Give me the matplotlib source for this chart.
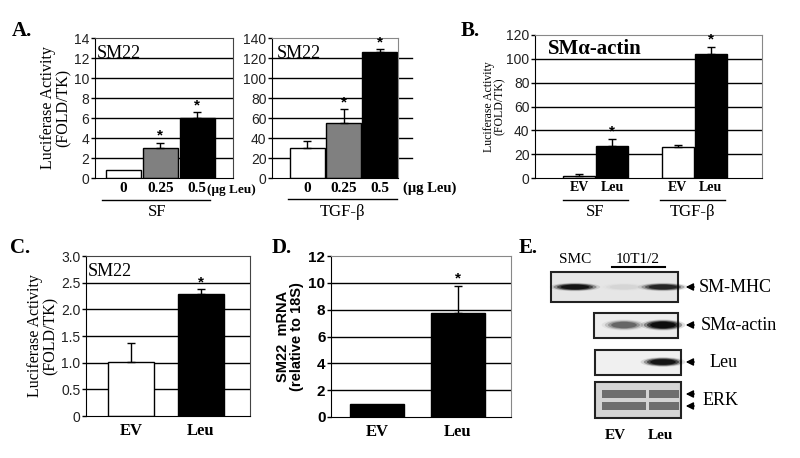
"""
Leupaxin figure: luciferase reporter assays (A-C), SM22 mRNA (D) and western blot (E)
"""
import matplotlib
matplotlib.use('Agg')
import matplotlib.pyplot as plt
from matplotlib.patches import Rectangle, Ellipse
from matplotlib.lines import Line2D

# ---- data ----
a_doses = ['0', '0.25', '0.5']
a_sf = [0.8, 3.0, 6.0]
a_sf_err = [0.0, 0.55, 0.6]
a_tgf = [30, 55, 126]
a_tgf_err = [7, 14, 3]

b_labels = ['EV', 'Leu', 'EV', 'Leu']
b_vals = [2, 27, 26, 104]
b_err = [1, 6, 2, 6]
b_colors = ['white', 'black', 'white', 'black']

cd_labels = ['EV', 'Leu']
c_vals = [1.02, 2.28]
c_err = [0.34, 0.1]
d_vals = [1.0, 7.75]
d_err = [0.0, 2.05]

# western blot band intensities per lane (SMC, EV, Leu)
blot_lanes = ['SMC', 'EV', 'Leu']
mhc_int = [0.9, 0.04, 0.75]
actin_int = [None, 0.4, 1.0]
leu_int = [None, 0.0, 0.9]
erk_int = [None, 0.8, 0.8]

W, H = 800, 458
fig = plt.figure(figsize=(8, 4.58), dpi=100)

SERIF = ['Liberation Serif', 'DejaVu Serif']
SANS = ['Liberation Sans', 'DejaVu Sans']


def box(x0, y0, x1, y1):
    return fig.add_axes([x0 / W, 1 - y1 / H, (x1 - x0) / W, (y1 - y0) / H])


def ftext(x, y, s, **kw):
    kw.setdefault('family', SERIF)
    kw.setdefault('ha', 'center')
    kw.setdefault('va', 'center')
    fig.text(x / W, 1 - y / H, s, **kw)


def hline(x0, x1, y, lw=1.0):
    fig.add_artist(Line2D([x0 / W, x1 / W], [1 - y / H, 1 - y / H],
                          color='black', lw=lw))


def style(ax, ymax, step, grid, frame='#888888', tickfont=None, fmt=None):
    ax.set_ylim(0, ymax)
    ticks = [i * step for i in range(int(round(ymax / step)) + 1)]
    ax.set_yticks(ticks)
    if fmt:
        ax.set_yticklabels([fmt(t) for t in ticks])
    for t in ticks:
        if 0 < t < ymax and grid:
            ax.axhline(t, color='black', lw=1, zorder=0)
    for s in ['top', 'right']:
        ax.spines[s].set_color(frame)
    for s in ['left', 'bottom']:
        ax.spines[s].set_color('black')
    ax.tick_params(axis='y', length=3, width=1, pad=1)
    ax.tick_params(axis='x', length=0)
    for lab in ax.get_yticklabels():
        lab.set(**(tickfont or dict(family=SANS, fontsize=10, color='#222222')))


def bars(ax, x, vals, errs, colors, width, stars):
    ax.bar(x, vals, width=width, color=colors, edgecolor='black', lw=1, zorder=2)
    for xi, v, e, s in zip(x, vals, errs, stars):
        if e > 0:
            ax.errorbar(xi, v, yerr=[[0], [e]], color='black', lw=1,
                        capsize=3, capthick=1, zorder=3)
        if s:
            ax.text(xi, v + e, '*', ha='center', va='bottom', fontsize=11,
                    fontweight='bold', family=SANS, zorder=4)


xlab_font = dict(family=SERIF, fontsize=11, fontweight='bold')

# ---- A, serum free ----
ax = box(95, 38, 233, 178)
x = list(range(len(a_doses)))
bars(ax, x, a_sf, a_sf_err, ['white', '#808080', 'black'], 0.95, [0, 1, 1])
ax.set_xlim(-0.77, 2.97)
style(ax, 14, 2, True, frame='#444444')
ax.set_xticks(x)
ax.set_xticklabels(a_doses, **xlab_font)
ax.tick_params(axis='x', pad=3)
ax.text(0.015, 0.89, 'SM22', transform=ax.transAxes, family=SERIF,
        fontsize=13, va='center')
ax.set_ylabel('Luciferase Activity\n(FOLD/TK)', family=SERIF, fontsize=11.5,
              labelpad=2, linespacing=0.9)
ftext(207, 190, '(μg Leu)', ha='left', family=SERIF, fontsize=9.5,
      fontweight='bold')
hline(102, 210, 200)
ftext(157, 212, 'SF', fontsize=12)

# ---- A, TGF-beta ----
ax = box(272, 38, 398, 178)
bars(ax, x, a_tgf, a_tgf_err, ['white', '#808080', 'black'], 0.97, [0, 1, 1])
ax.set_xlim(-0.98, 2.5)
style(ax, 140, 20, False)
for t in range(20, 140, 20):
    ax.axhline(t, xmin=0, xmax=1.11, color='black', lw=1, zorder=0,
               clip_on=False)
ax.set_xticks(x)
ax.set_xticklabels(a_doses, **xlab_font)
ax.tick_params(axis='x', pad=3)
ax.text(0.04, 0.89, 'SM22', transform=ax.transAxes, family=SERIF,
        fontsize=13, va='center')
ftext(403, 188, '(μg Leu)', ha='left', family=SERIF, fontsize=10.5,
      fontweight='bold')
hline(288, 397, 199)
ftext(343, 212, 'TGF-β', fontsize=12)

# ---- B ----
ax = box(535, 35, 762, 178)
bx = [0, 1, 3, 4]
bars(ax, bx, b_vals, b_err, b_colors, 0.97, [0, 1, 0, 1])
ax.set_xlim(-1.35, 5.56)
style(ax, 120, 20, True)
ax.set_xticks(bx)
ax.set_xticklabels(b_labels, family=SERIF, fontsize=10, fontweight='bold')
ax.tick_params(axis='x', pad=2)
ax.text(0.057, 0.9, 'SMα-actin', transform=ax.transAxes, family=SERIF,
        fontsize=15, fontweight='bold', va='center')
ax.set_ylabel('Luciferase Activity\n(FOLD/TK)', family=SERIF, fontsize=8.5,
              labelpad=0, linespacing=0.9)
hline(563, 628, 200)
hline(660, 725, 200)
ftext(595, 212, 'SF', fontsize=12)
ftext(693, 212, 'TGF-β', fontsize=12)

# ---- C ----
ax = box(86, 256, 250, 416)
cx = list(range(len(cd_labels)))
bars(ax, cx, c_vals, c_err, ['white', 'black'], 0.66, [0, 1])
ax.set_xlim(-0.64, 1.7)
style(ax, 3.0, 0.5, True, frame='#444444',
      fmt=lambda t: '0' if t == 0 else f'{t:.1f}')
ax.set_xticks(cx)
ax.set_xticklabels(cd_labels, family=SERIF, fontsize=12, fontweight='bold')
ax.tick_params(axis='x', pad=5)
ax.text(0.01, 0.9, 'SM22', transform=ax.transAxes, family=SERIF,
        fontsize=13, va='center')
ax.set_ylabel('Luciferase Activity\n(FOLD/TK)', family=SERIF, fontsize=11.5,
              labelpad=2, linespacing=0.9)

# ---- D ----
ax = box(331, 256, 511, 417)
bars(ax, cx, d_vals, d_err, ['black', 'black'], 0.67, [0, 1])
ax.set_xlim(-0.57, 1.66)
style(ax, 12, 2, True,
      tickfont=dict(family=SANS, fontsize=11, fontweight='bold', color='black'))
ax.set_xticks(cx)
ax.set_xticklabels(cd_labels, family=SERIF, fontsize=12, fontweight='bold')
ax.tick_params(axis='x', pad=5)
ax.set_ylabel('SM22  mRNA\n(relative to 18S)', family=SANS, fontsize=10.5,
              fontweight='bold', labelpad=3, linespacing=1.0)

# ---- E, western blot ----
ax = box(520, 220, 800, 458)
ax.set_xlim(520, 800)
ax.set_ylim(458, 220)
ax.axis('off')
lane_x = dict(zip(blot_lanes, [575, 624, 663]))


def band(cx_, cy, w, h, inten):
    if not inten:
        return
    for k, scale in enumerate([1.4, 1.2, 1.0, 0.8]):
        ax.add_patch(Ellipse((cx_, cy), w * scale, h * scale,
                             color='black', alpha=inten * (0.12 + 0.22 * k), lw=0))


strips = [
    ('SM-MHC', (551, 272, 127, 30), mhc_int, 287, 36, 6, '#e6e6e6'),
    ('SMα-actin', (594, 313, 84, 25), actin_int, 325, 32, 8, '#ededed'),
    ('Leu', (595, 350, 86, 25), leu_int, 362, 32, 7, '#f0f0f0'),
]
for name, (x0, y0, w, h), ints, by, bw, bh, face in strips:
    ax.add_patch(Rectangle((x0, y0), w, h, facecolor=face, edgecolor='#222222', lw=1.5))
    for lane, inten in zip(blot_lanes, ints):
        band(lane_x[lane], by, bw, bh, inten)
    ax.annotate('', xy=(683, by), xytext=(697, by),
                arrowprops=dict(arrowstyle='-|>', color='black', lw=1,
                                mutation_scale=11))
ax.text(699, 287, 'SM-MHC', family=SERIF, fontsize=13, va='center')
ax.text(701, 325, 'SMα-actin', family=SERIF, fontsize=13, va='center')
ax.text(710, 362, 'Leu', family=SERIF, fontsize=13, va='center')

# ERK strip, two bands
ax.add_patch(Rectangle((595, 382), 86, 36, facecolor='#d4d4d4', edgecolor='#222222', lw=1.5))
for lane, inten in zip(blot_lanes, erk_int):
    if inten:
        for by in (394, 406):
            ax.add_patch(Rectangle((lane_x[lane] - 22 if lane == 'EV' else lane_x[lane] - 14, by - 4),
                                   44 if lane == 'EV' else 30, 8, color='#555555',
                                   alpha=inten, lw=0))
for by in (394, 406):
    ax.annotate('', xy=(683, by), xytext=(697, by),
                arrowprops=dict(arrowstyle='-|>', color='black', lw=1,
                                mutation_scale=11))
ax.text(703, 400, 'ERK', family=SERIF, fontsize=13, va='center')

ax.text(lane_x['SMC'], 259, 'SMC', family=SERIF, fontsize=11, ha='center', va='center')
ax.text(638, 259, '10T1/2', family=SERIF, fontsize=11, ha='center', va='center')
ax.plot([612, 665], [267, 267], color='black', lw=1.5)
ax.text(615, 435, 'EV', family=SERIF, fontsize=11, fontweight='bold', ha='center', va='center')
ax.text(660, 435, 'Leu', family=SERIF, fontsize=11, fontweight='bold', ha='center', va='center')

# ---- panel letters ----
for lx, ly, s in [(22, 31, 'A.'), (470, 31, 'B.'), (20, 248, 'C.'),
                  (282, 248, 'D.'), (528, 248, 'E.')]:
    ftext(lx, ly, s, fontsize=15, fontweight='bold')

plt.savefig('out.png', dpi=100)
